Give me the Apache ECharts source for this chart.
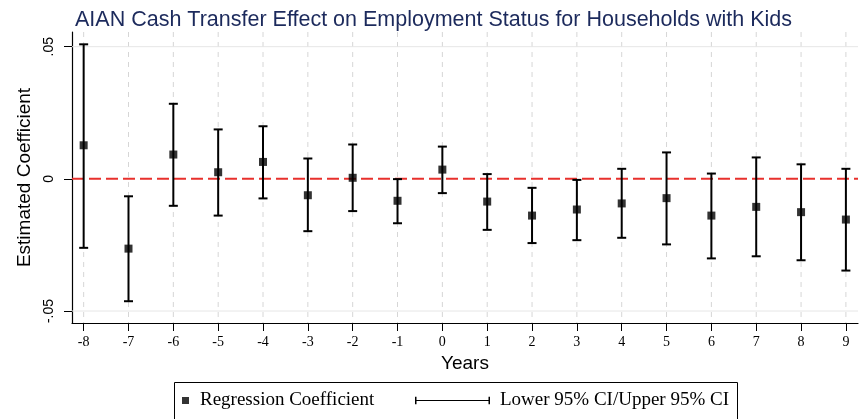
<!DOCTYPE html>
<html><head><meta charset="utf-8">
<script src="https://cdn.jsdelivr.net/npm/echarts@6/dist/echarts.min.js"></script>
<style>html,body{margin:0;padding:0;background:#fff}#c{width:867px;height:419px}</style>
</head><body><div id="c"></div>
<script>
const years = [-8,-7,-6,-5,-4,-3,-2,-1,0,1,2,3,4,5,6,7,8,9];
const coef  = [0.0127,-0.0264,0.0092,0.0025,0.0064,-0.0062,0.0004,-0.0083,0.0035,-0.0086,-0.0139,-0.0116,-0.0093,-0.0073,-0.0139,-0.0106,-0.0126,-0.0154];
const upper = [0.0509,-0.0066,0.0284,0.0187,0.0199,0.0077,0.0130,-0.0001,0.0122,0.0018,-0.0034,-0.0004,0.0038,0.0100,0.0020,0.0081,0.0055,0.0038];
const lower = [-0.0261,-0.0463,-0.0102,-0.0139,-0.0074,-0.0198,-0.0122,-0.0168,-0.0054,-0.0193,-0.0243,-0.0232,-0.0223,-0.0248,-0.0301,-0.0293,-0.0308,-0.0347];
const yTicks = [-0.05, 0, 0.05];
const yTickLabels = ['-.05', '0', '.05'];
const refLine = [0];
const titleText = 'AIAN Cash Transfer Effect on Employment Status for Households with Kids';
const xName = 'Years';
const yName = 'Estimated Coefficient';
const seriesNames = ['Regression Coefficient', 'Lower 95% CI/Upper 95% CI'];

const chart = echarts.init(document.getElementById('c'), null, {renderer: 'canvas'});
const serif = 'Liberation Serif, Times New Roman, serif';
const sans = 'Liberation Sans, Arial, Helvetica, sans-serif';

const ciData = years.map((y, i) => [y, lower[i], upper[i]]);
const ptData = years.map((y, i) => [y, coef[i]]);
const hGrid = yTicks.filter(v => v !== 0);

function vLine(params, api) {
  const cs = params.coordSys;
  const p = api.coord([api.value(0), 0]);
  return {type: 'line', shape: {x1: p[0], y1: cs.y, x2: p[0], y2: cs.y + cs.height},
    style: {stroke: '#d6d6d6', lineWidth: 1, lineDash: [5, 5]}, silent: true};
}
function hLine(color, width, dash) {
  return (params, api) => {
    const cs = params.coordSys;
    const p = api.coord([0, api.value(0)]);
    return {type: 'line', shape: {x1: cs.x, y1: p[1], x2: cs.x + cs.width, y2: p[1]},
      style: {stroke: color, lineWidth: width, lineDash: dash}, silent: true};
  };
}

chart.setOption({
  animation: false,
  backgroundColor: '#fff',
  title: {text: titleText, left: 'center', top: 4,
    textStyle: {color: '#1c2a5c', fontSize: 21.5, fontWeight: 'normal', fontFamily: sans}},
  grid: {left: 72, right: 9, top: 32, bottom: 96},
  xAxis: {type: 'value', min: -8.26, max: 9.27,
    name: xName, nameLocation: 'middle', nameGap: 30,
    nameTextStyle: {fontFamily: sans, fontSize: 19, color: '#000'},
    axisLine: {show: true, onZero: false, lineStyle: {color: '#000', width: 1.2}},
    axisTick: {show: true, customValues: years, length: 8, lineStyle: {color: '#000'}},
    axisLabel: {customValues: years, fontFamily: serif, fontSize: 14, color: '#000', margin: 12,
      formatter: v => String(v)},
    splitLine: {show: false}},
  yAxis: {type: 'value', min: -0.05454, max: 0.05556,
    name: yName, nameLocation: 'middle', nameGap: 34,
    nameTextStyle: {fontFamily: sans, fontSize: 19, color: '#000'},
    axisLine: {show: true, onZero: false, lineStyle: {color: '#000', width: 1.2}},
    axisTick: {show: true, customValues: yTicks, length: 8, lineStyle: {color: '#000'}},
    axisLabel: {customValues: yTicks, rotate: 90, fontFamily: sans, fontSize: 14, color: '#000', margin: 16,
      formatter: v => yTickLabels[yTicks.findIndex(t => Math.abs(t - v) < 1e-9)]},
    splitLine: {show: false}},
  legend: [
    {data: [{name: seriesNames[0], icon: 'rect'}], left: 182, top: 391, padding: 0,
      itemWidth: 7, itemHeight: 7,
      textStyle: {fontFamily: serif, fontSize: 19, color: '#000', padding: [0, 0, 0, 6]}},
    {data: [{name: seriesNames[1], icon: 'path://M0,0h2v10h-2z M0,4.2h100v1.6h-100z M98,0h2v10h-2z'}],
      left: 415, top: 391, padding: 0, itemWidth: 75, itemHeight: 9,
      textStyle: {fontFamily: serif, fontSize: 19, color: '#000', padding: [0, 0, 0, 5]}}
  ],
  graphic: [{type: 'rect', shape: {x: 174.5, y: 382.5, width: 563, height: 60},
    style: {fill: 'none', stroke: '#000', lineWidth: 1}, z: 0}],
  series: [
    {type: 'custom', name: 'vgrid', data: years.map(y => [y]), z: 1, silent: true, renderItem: vLine},
    {type: 'custom', name: 'hgrid', data: hGrid.map(v => [v]), z: 1, silent: true,
      renderItem: hLine('#e6e6e6', 1, null)},
    {type: 'custom', name: 'zero', data: refLine.map(v => [v]), z: 2, silent: true,
      renderItem: hLine('#e8302c', 2, [12, 5])},
    {type: 'custom', name: seriesNames[1], data: ciData, z: 3,
      itemStyle: {color: '#000'},
      renderItem: (params, api) => {
        const x = api.value(0);
        const lo = api.coord([x, api.value(1)]);
        const hi = api.coord([x, api.value(2)]);
        const hw = 4.5;
        const st = {stroke: '#000', lineWidth: 2};
        return {type: 'group', children: [
          {type: 'line', shape: {x1: lo[0], y1: lo[1], x2: hi[0], y2: hi[1]}, style: st},
          {type: 'line', shape: {x1: lo[0] - hw, y1: lo[1], x2: lo[0] + hw, y2: lo[1]}, style: st},
          {type: 'line', shape: {x1: hi[0] - hw, y1: hi[1], x2: hi[0] + hw, y2: hi[1]}, style: st}
        ]};
      }},
    {type: 'scatter', name: seriesNames[0], data: ptData, symbol: 'rect', symbolSize: 8, z: 4,
      itemStyle: {color: '#000'}}
  ]
});
</script></body></html>
